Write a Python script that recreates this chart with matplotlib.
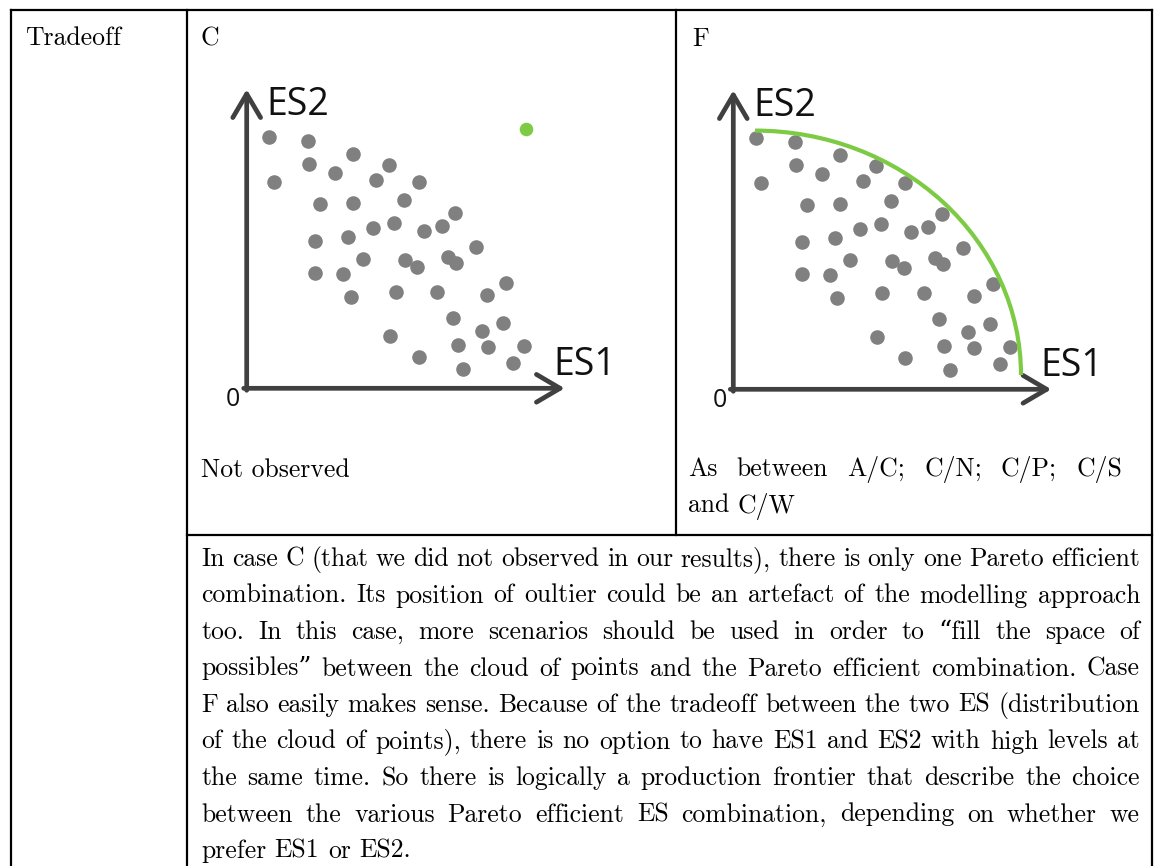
import numpy as np
import matplotlib
matplotlib.use("Agg")
import matplotlib.pyplot as plt
from matplotlib.patches import Arc

# --- data -------------------------------------------------------------
# scatter cloud (ES1, ES2) in diagram units, same cloud in both panels
es1 = [22.3, 61.7, 27.7, 62.7, 106.7, 88.7, 142.7, 129.7, 172.0, 73.3,
       106.7, 157.3, 208.3, 68.3, 101.7, 126.7, 147.7, 177.3, 195.0, 229.7,
       116.3, 158.7, 170.7, 201.7, 209.3, 68.7, 96.7, 104.0, 149.0, 190.3,
       240.3, 259.3, 206.0, 256.7, 235.0, 143.7, 211.0, 241.0, 277.0, 172.0,
       216.7, 266.7]
es2 = [251.0, 247.3, 206.7, 224.3, 234.7, 215.3, 223.0, 208.0, 206.3, 184.3,
       185.7, 188.7, 175.7, 147.3, 151.3, 160.3, 165.0, 157.7, 162.7, 141.0,
       129.3, 128.3, 121.7, 131.7, 125.3, 115.3, 114.0, 91.0, 96.0, 96.0,
       93.3, 105.0, 70.7, 65.3, 57.7, 52.7, 43.3, 41.0, 42.7, 31.0,
       19.3, 25.7]
# Pareto efficient outlier of case C
outlier = (279.0, 259.0)
# production frontier of case F (quarter ellipse)
front_center = (21.7, 14.3)
front_radii = (266.0, 244.4)

row_label = "Tradeoff"
cases = ["C", "F"]
notes = [["Not observed"],
         ["As between A/C; C/N; C/P; C/S", "and C/W"]]
paragraph = [
    "In case C (that we did not observed in our results), there is only one Pareto efficient",
    "combination. Its position of oultier could be an artefact of the modelling approach",
    "too. In this case, more scenarios should be used in order to \u201cfill the space of",
    "possibles\u201d between the cloud of points and the Pareto efficient combination. Case",
    "F also easily makes sense. Because of the tradeoff between the two ES (distribution",
    "of the cloud of points), there is no option to have ES1 and ES2 with high levels at",
    "the same time. So there is logically a production frontier that describe the choice",
    "between the various Pareto efficient ES combination, depending on whether we",
    "prefer ES1 or ES2.",
]

# --- styles -----------------------------------------------------------
W, H = 1155, 866
SERIF = ["cmr10", "DejaVu Serif"]
FS = 18.5
GREY = "#808080"
DARK = "#404040"
GREEN = "#7dcb45"

fig = plt.figure(figsize=(W / 100, H / 100), dpi=100)
base = fig.add_axes([0, 0, 1, 1])
base.set_xlim(0, W)
base.set_ylim(H, 0)
base.axis("off")

# table rules
x_left, x_div1, x_div2, x_right = 11, 187, 676, 1152
y_top, y_mid = 10, 535
lk = dict(color="black", lw=1.6, solid_capstyle="projecting")
base.plot([x_left, x_right], [y_top, y_top], **lk)
base.plot([x_left, x_left], [y_top, H], **lk)
base.plot([x_div1, x_div1], [y_top, H], **lk)
base.plot([x_div2, x_div2], [y_top, y_mid], **lk)
base.plot([x_div1, x_right], [y_mid, y_mid], **lk)
base.plot([x_right, x_right], [y_top, H], **lk)

tk = dict(fontsize=FS, family=SERIF, va="baseline", ha="left")
base.text(25, 45, row_label, **tk)
base.text(200, 45, cases[0], **tk)
base.text(692, 46, cases[1], **tk)
base.text(201, 477, notes[0][0], **tk)

fig.canvas.draw()
rend = fig.canvas.get_renderer()


def text_w(s):
    t = base.text(0, 0, s, **tk)
    w = t.get_window_extent(rend).width
    t.remove()
    return w


space = text_w("a a") - text_w("aa")


def justified(lines, x0, x1, y0, dy):
    # word by word, stretched to the cell width except the last line
    for i, line in enumerate(lines):
        words = line.split()
        ws = [text_w(w) for w in words]
        y = y0 + i * dy
        if i == len(lines) - 1 or len(words) < 2:
            gap = space
        else:
            gap = (x1 - x0 - sum(ws)) / (len(words) - 1)
        x = x0
        for w, wd in zip(words, ws):
            base.text(x, y, w, **tk)
            x += wd + gap


justified(notes[1], 688, 1122, 476, 36.5)
justified(paragraph, 201, 1140, 566, 36.5)


# --- the two diagrams ---------------------------------------------------
def diagram(ox, oy, frontier):
    # axes with 1 unit = 1 pixel, origin at (ox, oy) pixels from top-left
    l, r, b, t = 60, 420, 40, 320
    ax = fig.add_axes([(ox - l) / W, (H - oy - b) / H, (l + r) / W, (b + t) / H])
    ax.set_xlim(-l, r)
    ax.set_ylim(-b, t)
    ax.axis("off")
    ap = dict(arrowstyle="->,head_length=0.85,head_width=0.5", lw=3.4,
              color=DARK, shrinkA=0, shrinkB=0, mutation_scale=20)
    ax.annotate("", xy=(0, 299), xytext=(0, -2), arrowprops=ap)
    ax.annotate("", xy=(318, 0), xytext=(-3, 0), arrowprops=ap)
    ax.scatter(es1, es2, s=110, color=GREY, linewidths=0, zorder=3)
    lab = dict(family="Open Sans", va="baseline", ha="left", color="#111111")
    ax.text(20, 273, "ES2", fontsize=27, **lab)
    ax.text(307, 13, "ES1", fontsize=27, **lab)
    ax.text(-21, -18, "0", fontsize=18, **lab)
    if frontier:
        ax.add_patch(Arc(front_center, 2 * front_radii[0], 2 * front_radii[1],
                         theta1=0, theta2=90, color=GREEN, lw=3, zorder=4))
    else:
        ax.scatter([outlier[0]], [outlier[1]], s=95, color=GREEN,
                   linewidths=0, zorder=3)
    return ax


diagram(246.7, 388.3, False)
diagram(733.3, 389.3, True)

fig.savefig("out.png", dpi=100)
